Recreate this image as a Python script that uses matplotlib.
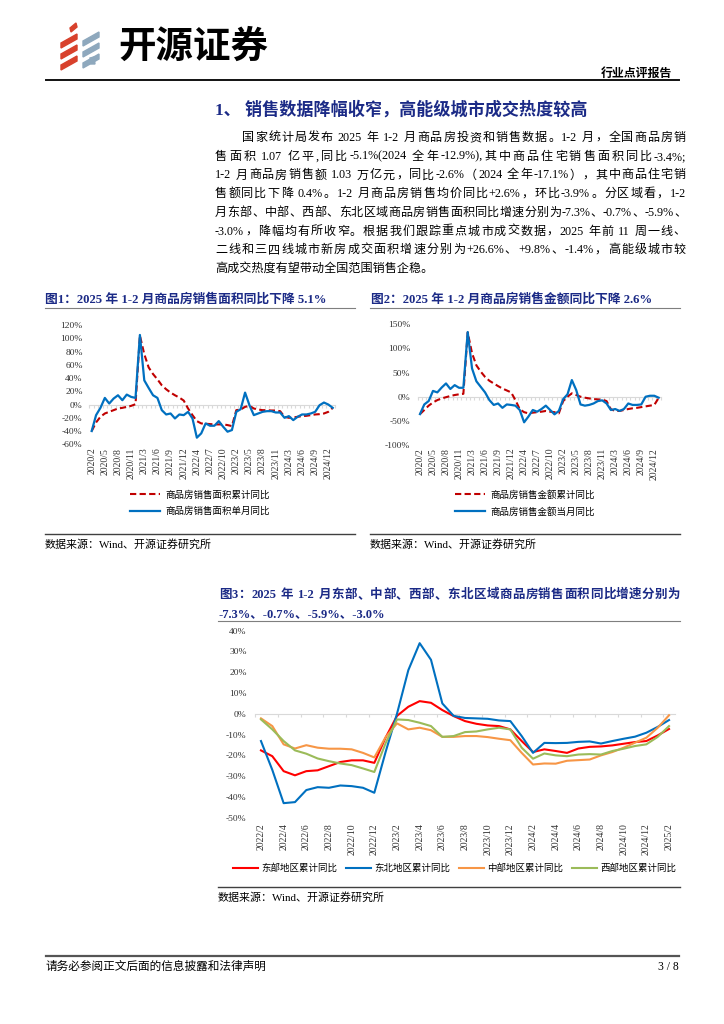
import re
import numpy as np
import matplotlib
matplotlib.use("Agg")
import matplotlib.pyplot as plt
from matplotlib.patches import Polygon
from matplotlib.lines import Line2D
from matplotlib.ticker import FuncFormatter

W, H = 724, 1024
SERIF_CJK = ['Liberation Serif', 'Noto Sans CJK SC']
CJK = ['Noto Sans CJK SC', 'DejaVu Sans']
NAVY = '#1B2A86'
plt.rcParams['font.family'] = SERIF_CJK

# ---------------- data ----------------
# fig 1 / fig 2: NBS data, Jan merged into Feb
months_a = [f"{y}/{m}" for y in range(2020, 2025) for m in range(2, 13)] + ["2025/2"]

area_cum = [-40, -27, -18.5, -13.5, -11, -8.5, -6, -5, -3.5, -2, 0.5,
            104, 76, 56, 46, 38, 29, 23, 18, 14, 10.5, 6,
            -6, -16, -25, -28.5, -29, -29.5, -30, -30, -30, -31, -32.5,
            -8.5, -7.5, -3.5, -2, -6, -7.5, -8.5, -8.5, -9, -9, -10,
            -18.5, -20, -19.5, -18.5, -17.5, -17, -16, -15, -14.5, -13.5, -11, -5.1]
area_month = [-40, -16, -5, 10, 1.5, 9, 14, 6.5, 15, 11.5, 10,
              105, 36.5, 25, 14, 10, -8.5, -15, -13.5, -21, -15, -16,
              -11, -21, -50, -43.5, -28.5, -32, -32, -25, -33.5, -41, -38.5,
              -11, -7, 18, -1, -16, -13.5, -11, -10, -10, -12, -12,
              -20, -17.5, -23.5, -18.5, -15, -15, -13.5, -11, -1, 3, 0, -5]

amount_cum = [-36, -27.5, -18.5, -12, -7, -3.5, -1, 1.5, 3.5, 5, 6,
              133, 90, 65, 52, 41, 33, 27.5, 22, 17, 13, 9,
              -7, -26, -32, -34.5, -33, -32, -31, -29.5, -31, -32, -34.5,
              -9, 0, 7, 3.5, 0, -2, -3.5, -5, -5.5, -6, -9,
              -26, -29.5, -29.5, -27.5, -25.5, -24, -23, -21.5, -20, -18.5, -17, -2.6]
amount_month = [-36, -16, -9, 12, 9, 19, 27.5, 16, 24, 18.5, 18.5,
                134, 58.5, 32, 20.5, 9, -7, -17, -14, -23, -16, -17,
                -18.5, -27.5, -53, -41, -27.5, -31, -25.5, -18.5, -27.5, -36.5, -29.5,
                -5, 5, 34.5, 14, -16, -18.5, -17, -14, -9, -7.5, -14,
                -27.5, -25.5, -29.5, -25.5, -14, -17, -17, -16, 0, 2, 2, -2]

# fig 3: monthly axis 2022/2 - 2025/2
months_b = ([f"2022/{m}" for m in range(2, 13)] + [f"2023/{m}" for m in range(1, 13)]
            + [f"2024/{m}" for m in range(1, 13)] + ["2025/1", "2025/2"])
east = [-17.6, -20.4, -27.6, -29.6, -27.6, -27.2, -25.2, -23.2, -22.4, -22.4, -23.6,
        -11.4, -1, 3.4, 6.1, 5.3, 1.8, -1.1, -3.5, -4.8, -5.6, -5.9, -7.5,
        -13.1, -18.4, -17.1, -17.9, -18.8, -16.7, -15.9, -15.7, -15.2, -14.4, -13.6, -13.1, -10.4, -7.3]
northeast = [-13.1, -27, -43, -42.5, -36.7, -35.3, -35.6, -34.5, -34.8, -35.6, -38,
             -18.3, 0, 21, 34, 26, 5, -1, -2, -2.2, -2.4, -3.2, -3.5,
             -10.7, -18.8, -14, -14.1, -14, -13.5, -13.3, -14.3, -13.1, -12, -11, -9.1, -6.3, -3.0]
central = [-2.2, -5.9, -14.7, -16.7, -15.1, -16.3, -16.8, -16.8, -17.1, -18.8, -21,
           -11.2, -4.6, -7.5, -6.7, -7.9, -11.1, -11.1, -10.7, -10.7, -11.2, -12, -12.7,
           -18.8, -24.4, -23.9, -24, -22.6, -22.3, -22, -20, -18.4, -16.3, -13.9, -11.5, -6.7, -0.7]
west = [-2.7, -7.5, -13.1, -17.6, -19.2, -21.5, -22.8, -23.9, -24.7, -26.3, -28,
        -14.1, -2.7, -3, -4.3, -5.9, -11.1, -10.7, -8.8, -8.5, -7.5, -6.7, -7.5,
        -16.3, -21.6, -19.1, -20, -20.4, -19.6, -19.4, -19.6, -17.9, -16.8, -15.5, -14.7, -11.1, -5.9]

body = [
    "国家统计局发布 2025 年 1-2 月商品房投资和销售数据。1-2 月，全国商品房销",
    "售面积 1.07 亿平,同比-5.1%(2024 全年-12.9%),其中商品住宅销售面积同比-3.4%;",
    "1-2 月商品房销售额 1.03 万亿元，同比-2.6%（2024 全年-17.1%），其中商品住宅销",
    "售额同比下降 0.4%。1-2 月商品房销售均价同比+2.6%，环比-3.9%。分区域看，1-2",
    "月东部、中部、西部、东北区域商品房销售面积同比增速分别为-7.3%、-0.7%、-5.9%、",
    "-3.0%，降幅均有所收窄。根据我们跟踪重点城市成交数据，2025 年前 11 周一线、",
    "二线和三四线城市新房成交面积增速分别为+26.6%、+9.8%、-1.4%，高能级城市较",
    "高成交热度有望带动全国范围销售企稳。",
]

fig = plt.figure(figsize=(W / 100, H / 100), dpi=100)
renderer = fig.canvas.get_renderer()
TOKEN = re.compile(r'[\u3000-\u303f\u4e00-\u9fff\uff00-\uffef]|[^\s\u3000-\u303f\u4e00-\u9fff\uff00-\uffef]+|\s')


def fx(x):
    return x / W


def fy(y):
    return 1 - y / H


def put(x, y, s, size, color='black', weight='normal', ha='left', family=SERIF_CJK, x1=None):
    base = y + 0.36 * size * 100 / 72   # y is the visual centre
    kw = dict(size=size, color=color, weight=weight, family=family, va='baseline')
    if x1 is None:
        return fig.text(fx(x), fy(base), s, ha=ha, **kw)
    # simple justification: spread the slack over the gaps between tokens
    space = 0.3 * size * 100 / 72
    items = []          # (text, width, leading space)
    lead = 0
    for t in TOKEN.findall(s):
        if t.isspace():
            lead += space
            continue
        o = fig.text(0, fy(base), t, ha='left', **kw)
        items.append((o, o.get_window_extent(renderer).width, lead))
        lead = 0
    used = sum(w + l for _, w, l in items) - items[0][2]
    gap = (x1 - x - used) / (len(items) - 1)
    cx = x
    for k, (o, w, l) in enumerate(items):
        if k:
            cx += l + gap
        o.set_x(fx(cx))
        cx += w


def hline(x0, x1, y, color, lw):
    fig.add_artist(Line2D([fx(x0), fx(x1)], [fy(y), fy(y)], color=color, lw=lw))


def px_axes(x0, y0, x1, y1):
    return fig.add_axes([fx(x0), fy(y1), (x1 - x0) / W, (y1 - y0) / H])


def line_chart(ax, labels, series, ylim, ystep, every, tick_every, ypad, xpad):
    n = len(labels)
    x = np.arange(n)
    for vals, color, ls, lw, name in series:
        ax.plot(x, vals, color=color, linestyle=ls, lw=lw, label=name, clip_on=False,
                dashes=(3, 1.6) if ls == '--' else (None, None))
    ax.set_xlim(-0.5, n - 0.5)
    ax.set_ylim(*ylim)
    ax.set_yticks(np.arange(ylim[0], ylim[1] + 1, ystep))
    ax.yaxis.set_major_formatter(FuncFormatter(lambda v, p: f"{v:.0f}%"))
    ax.set_xticks(x[::every])
    ax.set_xticklabels(labels[::every], rotation=90)
    ax.tick_params(length=0, labelsize=7, colors='#333333')
    ax.tick_params(axis='y', pad=ypad, labelsize=6.8)
    ax.tick_params(axis='x', pad=xpad)
    for s in ax.spines.values():
        s.set_visible(False)
    ax.patch.set_visible(False)
    # zero line with small category ticks
    zx = ax.twiny()
    zx.set_xlim(ax.get_xlim())
    zx.xaxis.set_ticks_position('bottom')
    zx.spines['bottom'].set_position(('data', 0))
    zx.spines['bottom'].set_color('#D9D9D9')
    for k in ('top', 'left', 'right'):
        zx.spines[k].set_visible(False)
    zx.set_xticks(np.arange(-0.5, n, tick_every))
    zx.tick_params(length=2.5, color='#D9D9D9', labelbottom=False, labeltop=False)
    zx.set_zorder(1)
    ax.set_zorder(2)


# ---------------- header ----------------
red, steel = '#D8412C', '#8EA8BD'
for k in range(3):
    yb = 34 + 11 * k
    fig.add_artist(Polygon([(fx(61), fy(yb + 9)), (fx(77), fy(yb)), (fx(77), fy(yb + 5)),
                            (fx(61), fy(yb + 14))], closed=True, color=red))
    fig.add_artist(Polygon([(fx(83), fy(yb + 7)), (fx(99), fy(yb - 2)), (fx(99), fy(yb + 3)),
                            (fx(83), fy(yb + 12))], closed=True, color=steel))
fig.add_artist(Polygon([(fx(70), fy(28)), (fx(76), fy(23)), (fx(77), fy(27)), (fx(71), fy(32))],
                       closed=True, color=red))
fig.add_artist(Polygon([(fx(90), fy(58)), (fx(94), fy(57)), (fx(95), fy(64)), (fx(91), fy(64))],
                       closed=True, color=steel))
put(118, 44, "开源证券", 27, weight='heavy', family=CJK)
put(672, 73, "行业点评报告", 8.6, weight='bold', ha='right', family=CJK)
hline(46, 679, 80, '#111111', 1.4)

# ---------------- body text ----------------
put(215, 108, "1、 销售数据降幅收窄，高能级城市成交热度较高", 12.3, color=NAVY, weight='bold')
for k, line in enumerate(body):
    y = 136.7 + 18.7 * k
    x0 = 242 if k == 0 else 215
    put(x0, y, line, 8.7, x1=None if k == len(body) - 1 else 686)

# ---------------- figure 1 ----------------
put(45, 298, "图1：2025 年 1-2 月商品房销售面积同比下降 5.1%", 9.2, color=NAVY, weight='bold')
hline(45, 355, 307.7, '#7F7F7F', 0.8)
ax1 = px_axes(89.5, 325, 334.9, 444.3)
line_chart(ax1, months_a,
           [(area_cum, '#C00000', '--', 1.5, "商品房销售面积累计同比"),
            (area_month, '#0070C0', '-', 1.6, "商品房销售面积单月同比")],
           (-60, 120), 20, 3, 1, 4.9, 2.4)
fig.legend(*ax1.get_legend_handles_labels(), loc='upper left', bbox_to_anchor=(fx(130), fy(490)),
           frameon=False, prop={'family': CJK, 'size': 6.8}, handlelength=3.2,
           handletextpad=0.55, labelspacing=0.75, borderpad=0, borderaxespad=0)
hline(45, 355, 534.3, '#404040', 1.0)
put(45, 544.3, "数据来源：Wind、开源证券研究所", 7.9)

# ---------------- figure 2 ----------------
put(371, 298, "图2：2025 年 1-2 月商品房销售金额同比下降 2.6%", 9.2, color=NAVY, weight='bold')
hline(370, 680, 307.7, '#7F7F7F', 0.8)
ax2 = px_axes(417.8, 324.3, 660.8, 445)
line_chart(ax2, months_a,
           [(amount_cum, '#C00000', '--', 1.5, "商品房销售金额累计同比"),
            (amount_month, '#0070C0', '-', 1.6, "商品房销售金额当月同比")],
           (-100, 150), 50, 3, 1, 5.6, 2.0)
fig.legend(*ax2.get_legend_handles_labels(), loc='upper left', bbox_to_anchor=(fx(455), fy(490)),
           frameon=False, prop={'family': CJK, 'size': 6.8}, handlelength=3.2,
           handletextpad=0.55, labelspacing=0.75, borderpad=0, borderaxespad=0)
hline(370, 680, 534.3, '#404040', 1.0)
put(370, 544.3, "数据来源：Wind、开源证券研究所", 7.9)

# ---------------- figure 3 ----------------
put(219, 593.3, "图3：2025 年 1-2 月东部、中部、西部、东北区域商品房销售面积同比增速分别为",
    9.0, color=NAVY, weight='bold', x1=680)
put(219, 612.3, "-7.3%、-0.7%、-5.9%、-3.0%", 9.0, color=NAVY, weight='bold')
hline(218, 680, 621, '#7F7F7F', 0.8)
ax3 = px_axes(255.3, 630.7, 674.7, 817.7)
line_chart(ax3, months_b,
           [(east, '#FF0000', '-', 1.5, "东部地区累计同比"),
            (northeast, '#0070C0', '-', 1.5, "东北地区累计同比"),
            (central, '#F79646', '-', 1.5, "中部地区累计同比"),
            (west, '#9BBB59', '-', 1.5, "西部地区累计同比")],
           (-50, 40), 10, 2, 2, 6.2, 4.0)
fig.legend(*ax3.get_legend_handles_labels(), loc='center left', bbox_to_anchor=(fx(233), fy(868)),
           ncol=4, frameon=False, prop={'family': CJK, 'size': 6.8}, handlelength=2.65,
           handletextpad=0.36, columnspacing=0.9, borderpad=0, borderaxespad=0)
hline(218, 680, 886.7, '#404040', 1.0)
put(218, 896.7, "数据来源：Wind、开源证券研究所", 7.9)

# ---------------- footer ----------------
hline(46, 679, 956, '#555555', 1.6)
put(46, 966, "请务必参阅正文后面的信息披露和法律声明", 8.4, family=CJK)
put(679, 966, "3 / 8", 8.4, ha='right')

fig.savefig("out.png", dpi=100)
